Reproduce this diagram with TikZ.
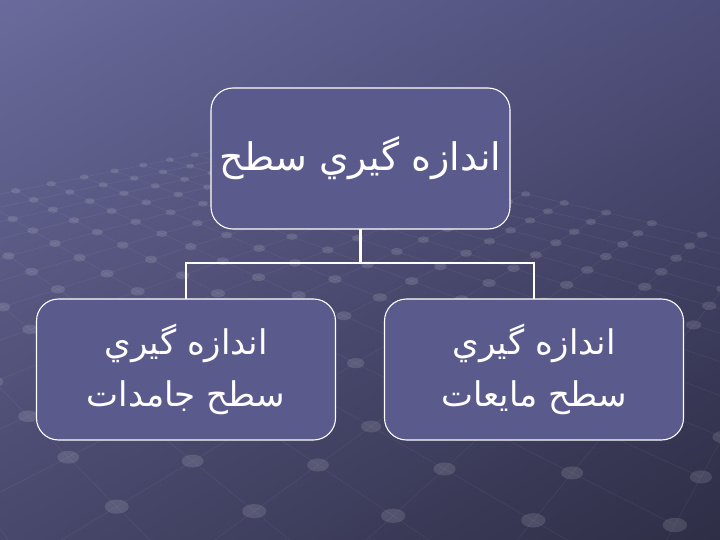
\documentclass[tikz,border=0pt]{standalone}
\usepackage{fontspec}
\usetikzlibrary{shadings}
\newfontfamily\arabicfont[Script=Arabic]{DejaVu Sans}
\TeXXeTstate=1
\definecolor{bgul}{HTML}{6A6A9C}
\definecolor{bgur}{HTML}{4E4E7A}
\definecolor{bgll}{HTML}{48486C}
\definecolor{bglr}{HTML}{2E2E46}
\definecolor{boxfill}{HTML}{5A5A8C}
\tikzset{
  topic/.style={draw=white, line width=1.1pt, fill=boxfill, rounded corners=22pt,
    minimum width=299pt, minimum height=141pt, inner sep=0pt, outer sep=0pt,
    text=white, align=center},
  link/.style={draw=white, line width=2.2pt},
  griddot/.style={fill=white, opacity=0.12},
  gridline/.style={draw=white, opacity=0.07, line width=0.5pt},
}

\begin{document}
\begin{tikzpicture}[x=1pt,y=-1pt]
  \useasboundingbox (0,0) rectangle (720,540);
  \shade[upper left=bgul, upper right=bgur, lower left=bgll, lower right=bglr]
    (0,0) rectangle (720,540);
  % dotted floor grid
  \begin{scope}
    \clip (0,0) rectangle (720,540);
    \foreach \i in {-3,...,12} {
      \pgfmathsetmacro\wa{1+0.0947*\i-0.0903*3}
      \pgfmathsetmacro\wb{1+0.0947*\i+0.0903*12}
      \draw[gridline] ({(318-37.88*\i-86.69*3)/\wa},{(465-1.894*\i)/\wa})
        -- ({(318-37.88*\i+86.69*12)/\wb},{(465-1.894*\i)/\wb});
    }
    \foreach \j in {-3,...,12} {
      \pgfmathsetmacro\wa{1-0.0947*3+0.0903*\j}
      \pgfmathsetmacro\wb{1+0.0947*12+0.0903*\j}
      \draw[gridline] ({(318+37.88*3+86.69*\j)/\wa},{(465+1.894*3)/\wa})
        -- ({(318-37.88*12+86.69*\j)/\wb},{(465-1.894*12)/\wb});
    }
    \foreach \i in {-3,...,12}
      \foreach \j in {-3,...,12} {
        \pgfmathsetmacro\w{1+0.0947*\i+0.0903*\j}
        \fill[griddot] ({(318-37.88*\i+86.69*\j)/\w},{(465-1.894*\i)/\w})
          ellipse ({11/\w} and {6.5/\w});
      }
  \end{scope}

  \node[topic, font=\arabicfont\fontsize{38}{44}\selectfont] (level) at (360.5,158.5)
    {\beginR اندازه گيري سطح\endR};
  \node[topic, font=\arabicfont\fontsize{34}{52}\selectfont] (solid) at (186,369.5)
    {\beginR اندازه گيري\endR\\\beginR سطح جامدات\endR};
  \node[topic, font=\arabicfont\fontsize{34}{52}\selectfont] (liquid) at (534,369.5)
    {\beginR اندازه گيري\endR\\\beginR سطح مايعات\endR};

  \coordinate (split) at (360.5,263);
  \draw[link] (level.south) -- (split) -| (solid.north);
  \draw[link] (split) -| (liquid.north);
\end{tikzpicture}
\end{document}
